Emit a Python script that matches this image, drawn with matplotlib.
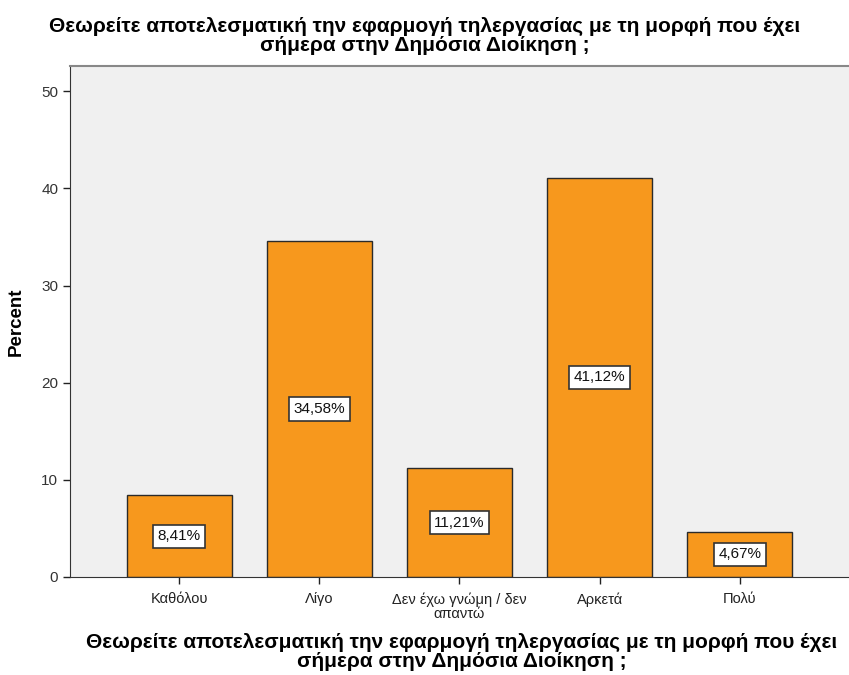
import matplotlib.pyplot as plt
import numpy as np

# Δεδομένα
categories = ["Καθόλου", "Λίγο", "Δεν έχω γνώμη / δεν\nαπαντώ", "Αρκετά", "Πολύ"]
percent = [8.41, 34.58, 11.21, 41.12, 4.67]
yticks = [0, 10, 20, 30, 40, 50]
question = "Θεωρείτε αποτελεσματική την εφαρμογή τηλεργασίας με τη μορφή που έχει\nσήμερα στην Δημόσια Διοίκηση ;"

plt.rcParams['font.family'] = ['Liberation Sans', 'DejaVu Sans']

fig = plt.figure(figsize=(8.49, 6.75), dpi=100)
W, H = 849, 675
ax = fig.add_axes([70 / W, (675 - 577) / H, (856 - 70) / W, (577 - 66) / H])
ax.set_facecolor("#f0f0f0")

x = np.arange(len(categories))
ax.bar(x, percent, width=0.75, color="#f7981d", edgecolor="#2a2a2a", linewidth=1.0, zorder=2)

# Ετικέτες ποσοστών στη μέση κάθε μπάρας
for xi, v in zip(x, percent):
    ax.text(xi, v / 2, f"{v:.2f}%".replace(".", ","), ha="center", va="center",
            fontsize=11, zorder=3, color="#111111",
            bbox=dict(boxstyle="square,pad=0.3", fc="white", ec="#333333", lw=1.2))

ax.set_xlim(-0.78, len(categories) - 1 + 0.83)
ax.set_ylim(0, 52.6)
ax.set_yticks(yticks)
ax.set_xticks(x)
ax.set_xticklabels(categories, fontsize=10.5, linespacing=1.05)
ax.tick_params(axis="y", labelsize=11, length=5, width=1, color="#222222", labelcolor="#333333")
ax.tick_params(axis="x", length=5, width=1, color="#222222", labelcolor="#222222", pad=6)

ax.spines['top'].set_color("#888888")
ax.spines['top'].set_linewidth(1.5)
ax.spines['right'].set_visible(False)
ax.spines['left'].set_color("#333333")
ax.spines['bottom'].set_color("#333333")

ax.set_ylabel("Percent", fontsize=13.5, fontweight="bold", labelpad=12)
fig.text(0.5, 1 - 36 / H, question, ha="center", va="center", fontsize=15,
         fontweight="bold", linespacing=1.05)
fig.text(462 / W, 1 - 652 / H, question, ha="center", va="center", fontsize=15,
         fontweight="bold", linespacing=1.05)

fig.savefig("out.png", dpi=100)
